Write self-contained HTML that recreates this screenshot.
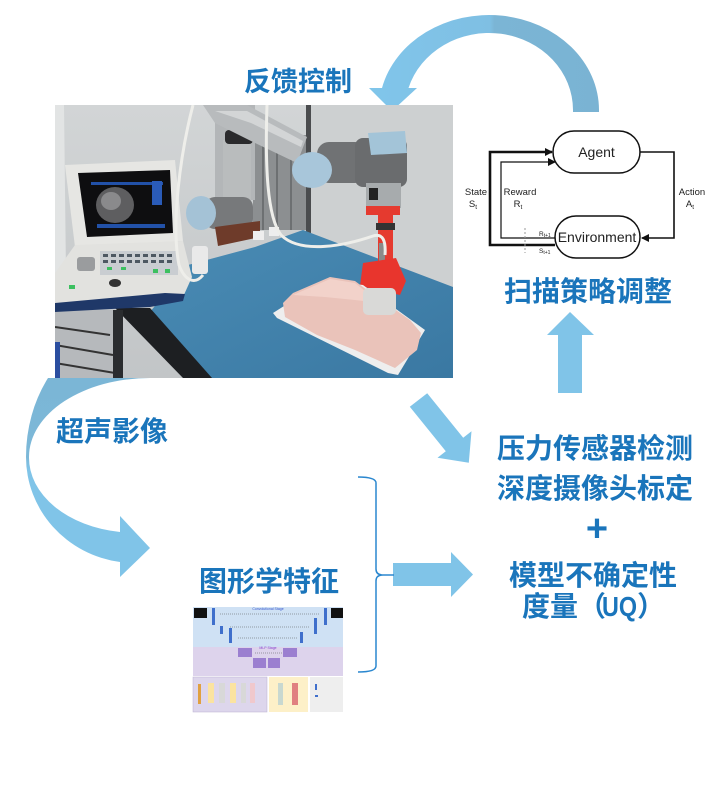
<!DOCTYPE html>
<html><head><meta charset="utf-8">
<style>
html,body{margin:0;padding:0;background:#fff;}
svg{display:block;}
.cn{font-family:"Liberation Sans","Noto Sans CJK SC",sans-serif;font-weight:bold;font-size:28px;fill:#1a75bb;}
.en{font-family:"Liberation Sans",sans-serif;fill:#222;}
</style></head>
<body>
<svg width="717" height="785" viewBox="0 0 717 785" xmlns="http://www.w3.org/2000/svg">
<defs>
<linearGradient id="gTop" x1="380" y1="0" x2="600" y2="0" gradientUnits="userSpaceOnUse">
<stop offset="0" stop-color="#80c5ea"/><stop offset="0.5" stop-color="#7fbfe3"/><stop offset="0.52" stop-color="#7bb5d5"/><stop offset="1" stop-color="#7ab3d3"/>
</linearGradient>
<linearGradient id="gLeft" x1="0" y1="378" x2="0" y2="577" gradientUnits="userSpaceOnUse">
<stop offset="0" stop-color="#7bb6d6"/><stop offset="0.4" stop-color="#7cb8d8"/><stop offset="0.46" stop-color="#80c4e8"/><stop offset="1" stop-color="#80c4e8"/>
</linearGradient>
<linearGradient id="wall" x1="0" y1="0" x2="0" y2="1">
<stop offset="0" stop-color="#d2d5d6"/><stop offset="1" stop-color="#c2c5c7"/>
</linearGradient>
<linearGradient id="cloth" x1="0" y1="0" x2="1" y2="1">
<stop offset="0" stop-color="#4a8cb5"/><stop offset="1" stop-color="#3a78a2"/>
</linearGradient>
<clipPath id="photoClip"><rect x="0" y="0" width="398" height="273"/></clipPath>
<marker id="ah" markerWidth="8" markerHeight="8" refX="7" refY="4" orient="auto" markerUnits="userSpaceOnUse">
<path d="M0,0 L8,4 L0,8 Z" fill="#111"/>
</marker>
</defs>

<!-- Top arc arrow -->
<path d="M599,112 L599,110 A110 95 0 0 0 382,88 L369,88 L392,111 L417,88 L408.5,88 A84 77 0 0 1 573,110 L573,112 Z" fill="url(#gTop)"/>

<!-- Left arc arrow -->
<path d="M48,378 A109 131 0 0 0 26,457 A109 106 0 0 0 120,562 L120,577 L150,548 L120,516 L120,532 A106 75 0 0 1 29,457 A121 79 0 0 1 150,378 Z" fill="url(#gLeft)"/>

<!-- Photo -->
<g transform="translate(55,105)" clip-path="url(#photoClip)">
<rect x="0" y="0" width="398" height="273" fill="url(#wall)"/>
<polygon points="0,0 9,0 11,170 0,176" fill="#e2e4e4"/>
<rect x="255" y="0" width="143" height="190" fill="#cdd0d1"/>
<rect x="198" y="30" width="55" height="95" fill="#8c8f91"/>
<line x1="208" y1="30" x2="208" y2="125" stroke="#6d7072" stroke-width="2"/>
<line x1="222" y1="30" x2="222" y2="125" stroke="#6d7072" stroke-width="2"/>
<line x1="236" y1="30" x2="236" y2="125" stroke="#6d7072" stroke-width="2"/>
<rect x="251" y="0" width="5" height="128" fill="#4a4c4e"/>
<rect x="160" y="0" width="40" height="95" fill="#b3b6b8"/>
<!-- robot base -->
<rect x="168" y="35" width="28" height="65" fill="#b9bcbd"/>
<rect x="170" y="25" width="28" height="14" rx="4" fill="#2a2a2c"/>
<rect x="150" y="92" width="48" height="32" rx="10" fill="#77797b"/>
<ellipse cx="146" cy="108" rx="15" ry="17" fill="#a4c2d6"/>
<polygon points="160,122 205,116 205,132 163,141" fill="#6e3b2a"/>
<rect x="198" y="126" width="11" height="9" fill="#eeeeee"/>
<rect x="214" y="122" width="10" height="9" fill="#eeeeee"/>
<!-- cloth -->
<polygon points="95,207 133,160 200,142 248,125 398,182 398,273 150,273" fill="url(#cloth)"/>
<polygon points="60,203 95,203 157,273 128,273" fill="#1d1f22"/>
<rect x="0" y="205" width="62" height="68" fill="#b6b9bc"/>
<line x1="0" y1="222" x2="55" y2="230" stroke="#333" stroke-width="2"/>
<line x1="0" y1="240" x2="58" y2="250" stroke="#333" stroke-width="2"/>
<line x1="0" y1="258" x2="60" y2="268" stroke="#333" stroke-width="2"/>
<rect x="58" y="205" width="10" height="68" fill="#2a2c2f"/>
<rect x="0" y="237" width="5" height="36" fill="#2b4ea0"/>
<!-- ultrasound -->
<polygon points="10,60 120,55 128,136 20,142" fill="#e6e6e3"/>
<polygon points="23,68 115,65 118,128 32,132" fill="#0e0e10"/>
<ellipse cx="60" cy="100" rx="19" ry="18" fill="#5e5e60"/>
<ellipse cx="56" cy="96" rx="10" ry="9" fill="#8a8a8c"/>
<rect x="36" y="77" width="72" height="3" fill="#2251a8"/>
<rect x="97" y="76" width="10" height="24" fill="#2a5bb8"/>
<rect x="42" y="119" width="68" height="4" fill="#2251a8"/>
<polygon points="20,140 128,136 137,172 128,192 0,200 0,168" fill="#e2e2df"/>
<rect x="45" y="146" width="78" height="24" fill="#c9cdd1"/>
<g fill="#4d5862">
<rect x="48" y="149" width="5" height="3"/><rect x="56" y="149" width="5" height="3"/><rect x="64" y="149" width="5" height="3"/><rect x="72" y="149" width="5" height="3"/><rect x="80" y="149" width="5" height="3"/><rect x="88" y="149" width="5" height="3"/><rect x="96" y="149" width="5" height="3"/><rect x="104" y="149" width="5" height="3"/><rect x="112" y="149" width="5" height="3"/>
<rect x="48" y="155" width="5" height="3"/><rect x="56" y="155" width="5" height="3"/><rect x="64" y="155" width="5" height="3"/><rect x="72" y="155" width="5" height="3"/><rect x="80" y="155" width="5" height="3"/><rect x="88" y="155" width="5" height="3"/><rect x="96" y="155" width="5" height="3"/><rect x="104" y="155" width="5" height="3"/><rect x="112" y="155" width="5" height="3"/>
</g>
<g fill="#3cc060">
<rect x="52" y="162" width="5" height="3"/><rect x="66" y="162" width="5" height="3"/><rect x="98" y="164" width="5" height="4"/><rect x="110" y="164" width="5" height="4"/><rect x="14" y="180" width="6" height="4"/>
</g>
<rect x="22" y="152" width="18" height="14" rx="3" fill="#9a9c9e"/>
<ellipse cx="60" cy="178" rx="6" ry="4" fill="#333"/>
<polygon points="0,198 110,188 130,189 128,196 95,202 0,207" fill="#1f3868"/>
<rect x="137" y="141" width="16" height="28" rx="3" fill="#e9e9e9"/>
<!-- silver upper arm -->
<polygon points="148,0 192,0 252,32 242,58 198,37 160,18" fill="#b8bbbd"/>
<polygon points="160,6 192,6 248,36 246,42 196,18" fill="#d3d5d6"/>
<!-- elbow -->
<rect x="262" y="37" width="50" height="41" rx="12" fill="#707274"/>
<ellipse cx="257" cy="65" rx="20" ry="18" fill="#a8c6da"/>
<!-- wrist -->
<rect x="300" y="33" width="52" height="49" rx="8" fill="#6a6c6e"/>
<polygon points="313,28 350,26 352,48 316,50" fill="#a3c4d8"/>
<rect x="311" y="78" width="35" height="25" fill="#a7abad"/>
<rect x="314" y="83" width="9" height="12" fill="#222"/>
<!-- red holder -->
<rect x="311" y="101" width="34" height="9" fill="#e53a2f"/>
<rect x="323" y="110" width="15" height="46" fill="#e53a2f"/>
<rect x="321" y="118" width="19" height="7" fill="#333"/>
<rect x="324" y="138" width="6" height="26" fill="#8a8a8a"/>
<polygon points="308,158 341,153 351,176 345,190 305,181" fill="#e8352d"/>
<!-- phantom -->
<polygon points="218,208 270,175 308,180 370,225 343,270 333,268 222,213" fill="#eeeeee"/>
<polygon points="228,198 238,188 275,172 300,176 312,185 325,198 338,203 355,215 366,228 362,245 340,263 300,245 262,230 230,212" fill="#eac3ba"/>
<polygon points="238,190 275,174 300,178 325,198 300,195 270,192" fill="#f2d2ca"/>
<rect x="308" y="183" width="33" height="27" rx="5" fill="#d9d9d7"/>
<!-- cables -->
<path d="M138,0 C125,50 116,120 124,160 C130,176 140,180 148,170" fill="none" stroke="#eeeeea" stroke-width="3"/>
<path d="M212,0 C210,60 212,112 226,130 C246,150 292,140 318,131 C328,128 331,136 330,150" fill="none" stroke="#eeeeea" stroke-width="3"/>
</g>

<!-- Diagonal arrow -->
<polygon points="409.8,406.8 427.2,393.2 463.2,437.7 471.5,431.2 468.8,462.7 437.5,457.8 445.8,451.3" fill="#80c4e8"/>
<!-- Up arrow -->
<polygon points="558,393 582,393 582,335 594,335 570,312 547,335 558,335" fill="#80c4e8"/>
<!-- Right arrow -->
<polygon points="393,563 451,563 451,552 473,574.5 451,597 451,586 393,586" fill="#80c4e8"/>
<!-- Bracket -->
<path d="M358,477 Q376,477 376,483 L376,569 Q376,575 383,575 Q376,575 376,581 L376,666 Q376,672 358,672" fill="none" stroke="#2a87cf" stroke-width="1.5"/>
<line x1="383" y1="575" x2="394" y2="575" stroke="#2a87cf" stroke-width="1.5"/>

<!-- RL diagram -->
<g fill="none" stroke="#111">
<path d="M640,152 L674,152 L674,238 L642,238" stroke-width="1.6" marker-end="url(#ah)"/>
<path d="M555,245 L490,245 L490,152 L552,152" stroke-width="2.6" marker-end="url(#ah)"/>
<path d="M555,238 L501,238 L501,162 L555,162" stroke-width="1.2" marker-end="url(#ah)"/>
</g>
<line x1="525" y1="228" x2="525" y2="253" stroke="#999" stroke-width="1" stroke-dasharray="2,2"/>
<rect x="553" y="131" width="87" height="42" rx="21" fill="#fff" stroke="#111" stroke-width="1.5"/>
<rect x="555" y="216" width="85" height="42" rx="21" fill="#fff" stroke="#111" stroke-width="1.5"/>
<text class="en" x="596.5" y="157" font-size="14" text-anchor="middle">Agent</text>
<text class="en" x="597" y="242" font-size="14" text-anchor="middle">Environment</text>
<text class="en" x="476" y="195" font-size="9.5" text-anchor="middle">State</text>
<text class="en" x="473" y="207" font-size="9.5" text-anchor="middle">S<tspan font-size="6.5" dy="2">t</tspan></text>
<text class="en" x="520" y="195" font-size="9.5" text-anchor="middle">Reward</text>
<text class="en" x="518" y="207" font-size="9.5" text-anchor="middle">R<tspan font-size="6.5" dy="2">t</tspan></text>
<text class="en" x="692" y="195" font-size="9.5" text-anchor="middle">Action</text>
<text class="en" x="690" y="207" font-size="9.5" text-anchor="middle">A<tspan font-size="6.5" dy="2">t</tspan></text>
<text class="en" x="539" y="236" font-size="6.5">R<tspan font-size="5" dy="1">t+1</tspan></text>
<text class="en" x="539" y="253" font-size="6.5">S<tspan font-size="5" dy="1">t+1</tspan></text>

<!-- Small network figure -->
<rect x="193" y="607" width="150" height="40" fill="#cfe1f4"/>
<rect x="193" y="647" width="150" height="29" fill="#ddd3ec"/>
<rect x="193" y="677" width="74" height="35" fill="#ddd6ec" stroke="#b9b0d0" stroke-width="0.5"/>
<rect x="269" y="677" width="39" height="35" fill="#fdf0c8"/>
<rect x="310" y="677" width="33" height="35" fill="#eeeeee"/>
<rect x="194" y="608" width="13" height="10" fill="#111"/>
<rect x="331" y="608" width="12" height="10" fill="#111"/>
<g fill="#3f6fcc">
<rect x="212" y="608" width="3" height="17"/><rect x="220" y="626" width="3" height="8"/><rect x="229" y="628" width="3" height="15"/>
<rect x="324" y="608" width="3" height="17"/><rect x="314" y="618" width="3" height="16"/><rect x="300" y="632" width="3" height="11"/>
</g>
<g stroke="#555" stroke-width="0.6" stroke-dasharray="1,1">
<line x1="220" y1="614" x2="320" y2="614"/><line x1="230" y1="627" x2="310" y2="627"/><line x1="238" y1="638" x2="298" y2="638"/><line x1="255" y1="653" x2="282" y2="653"/>
</g>
<text x="268" y="610" font-size="3.5" font-family="Liberation Sans,sans-serif" fill="#3355cc" text-anchor="middle">Convolutional Stage</text>
<text x="268" y="649" font-size="3.5" font-family="Liberation Sans,sans-serif" fill="#8844cc" text-anchor="middle">MLP Stage</text>
<g fill="#9b7fd0">
<rect x="238" y="648" width="14" height="9"/><rect x="283" y="648" width="14" height="9"/><rect x="253" y="658" width="13" height="10"/><rect x="268" y="658" width="12" height="10"/>
</g>
<g fill="#fbe3a0"><rect x="208" y="683" width="6" height="20"/><rect x="230" y="683" width="6" height="20"/></g>
<g fill="#d8d8d8"><rect x="219" y="683" width="6" height="20"/><rect x="241" y="683" width="5" height="20"/></g>
<rect x="250" y="683" width="5" height="20" fill="#f0c8cc"/>
<rect x="198" y="684" width="3" height="20" fill="#e0a040"/>
<rect x="278" y="683" width="5" height="22" fill="#c8d8d0"/>
<rect x="292" y="683" width="6" height="22" fill="#e08080"/>
<g fill="#3f6fcc"><rect x="315" y="684" width="2" height="6"/><rect x="315" y="695" width="3" height="2"/></g>

<!-- Chinese labels -->
<text class="cn" x="244" y="91" style="font-size:27px">反馈控制</text>
<text class="cn" x="504" y="301">扫描策略调整</text>
<text class="cn" x="56" y="441">超声影像</text>
<text class="cn" x="497" y="458">压力传感器检测</text>
<text class="cn" x="497" y="498">深度摄像头标定</text>
<text class="cn" x="597" y="541" text-anchor="middle" style="font-size:38px">+</text>
<text class="cn" x="509" y="585">模型不确定性</text>
<text class="cn" y="616"><tspan x="522">度量（</tspan><tspan x="602" textLength="35" lengthAdjust="spacingAndGlyphs">UQ</tspan><tspan x="637">）</tspan></text>
<text class="cn" x="199" y="591">图形学特征</text>
</svg>
</body></html>
